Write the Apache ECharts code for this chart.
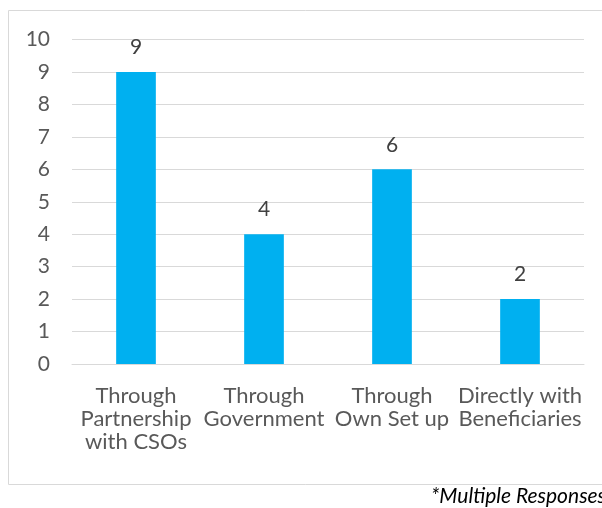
<!DOCTYPE html>
<html><head><meta charset="utf-8">
<script src="https://cdn.jsdelivr.net/npm/echarts@6/dist/echarts.min.js"></script>
<style>html,body{margin:0;padding:0;background:#fff}#c{width:602px;height:508px}</style>
</head><body><div id="c"></div>
<script>
const categories = ["Through\nPartnership\nwith CSOs", "Through\nGovernment", "Through\nOwn Set up", "Directly with\nBeneficiaries"];
const values = [9, 4, 6, 2];
const yTicks = [0, 1, 2, 3, 4, 5, 6, 7, 8, 9, 10];
const footnote = "*Multiple Responses";

const chart = echarts.init(document.getElementById('c'), null, {renderer: 'canvas'});
const FONT = 'Lato, "Open Sans", sans-serif';
chart.setOption({
  animation: false,
  graphic: [
    {type: 'rect', shape: {x: 8.5, y: 10.5, width: 620, height: 474}, style: {fill: 'none', stroke: '#d9d9d9', lineWidth: 1}},
    {type: 'text', right: -4, top: 486, style: {text: footnote, font: 'italic 21px ' + FONT, fill: '#000'}}
  ],
  grid: {left: 72, right: 18, top: 39.5, bottom: 144, containLabel: false},
  xAxis: {
    type: 'category', data: categories,
    axisLine: {show: true, lineStyle: {color: '#d9d9d9', width: 1}},
    axisTick: {show: false},
    axisLabel: {color: '#595959', fontSize: 22, fontFamily: FONT, lineHeight: 23, margin: 20, interval: 0}
  },
  yAxis: {
    type: 'value', min: yTicks[0], max: yTicks[yTicks.length - 1], interval: 1,
    axisLine: {show: false}, axisTick: {show: false},
    splitLine: {lineStyle: {color: '#d9d9d9', width: 1}},
    axisLabel: {color: '#595959', fontSize: 21, fontFamily: FONT, margin: 22}
  },
  series: [{
    type: 'bar', data: values, barWidth: '31%',
    itemStyle: {color: '#00B0F0'},
    label: {show: true, position: 'top', distance: 14, color: '#404040', fontSize: 21, fontFamily: FONT}
  }]
});
</script></body></html>
